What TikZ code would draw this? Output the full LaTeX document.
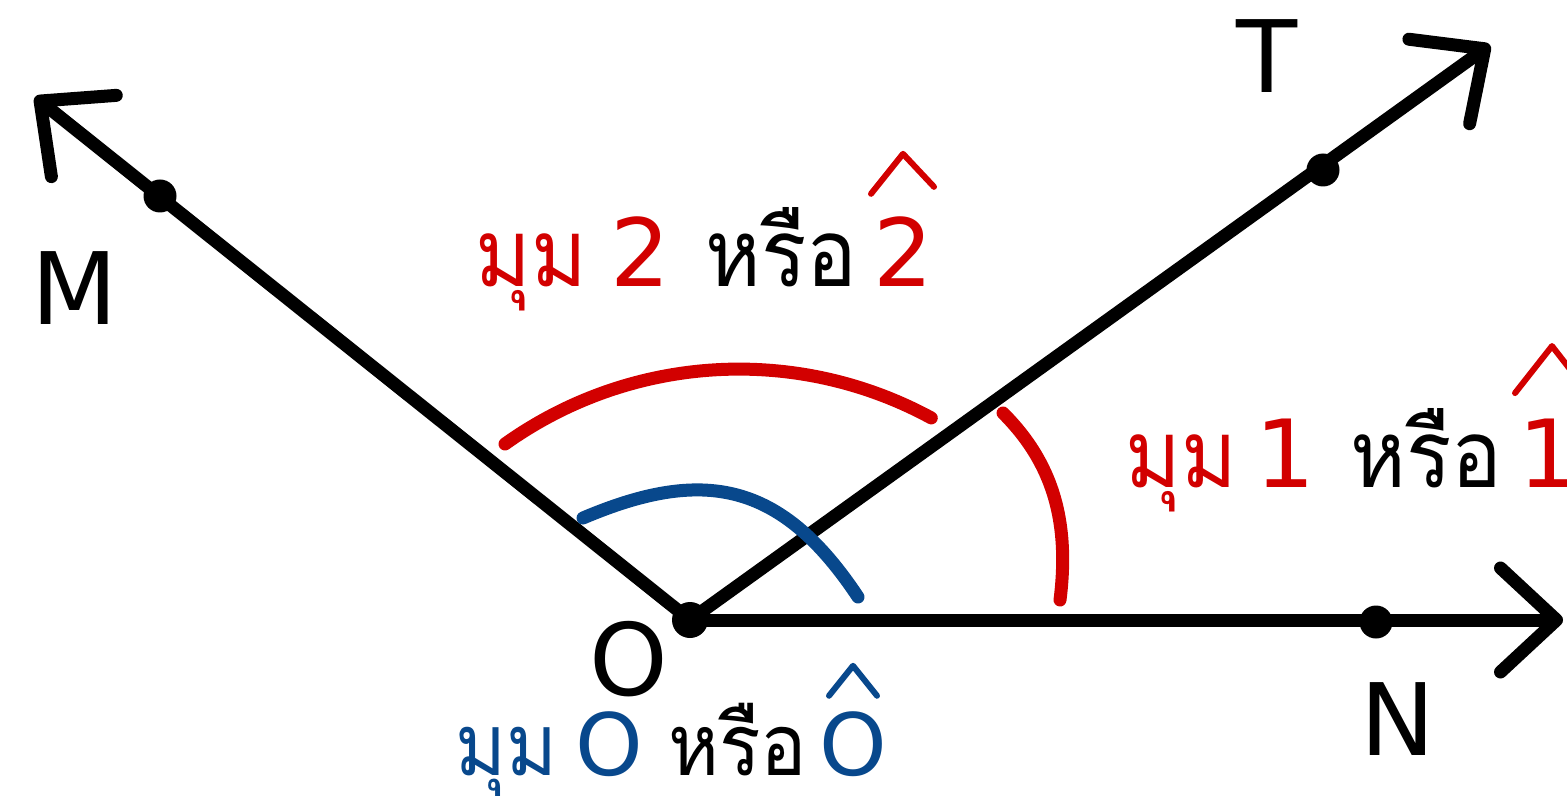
\documentclass[tikz,border=0pt]{standalone}
\usepackage{fontspec}
\setmainfont{DejaVu Sans}
\newfontfamily\thaifont[Script=Thai, FakeStretch=0.9]{Loma}
\usetikzlibrary{positioning, calc, arrows.meta}
\definecolor{angred}{RGB}{210,0,0}
\definecolor{angblue}{RGB}{8,72,140}

\begin{document}
\begin{tikzpicture}[x=0.5pt, y=-0.5pt, line cap=round, line join=round,
    ray/.style={line width=6.5pt, -{Straight Barb[length=28pt, width=52pt, round]}},
    pt/.style={circle, fill, inner sep=0pt, minimum size=16.5pt},
    arcline/.style={line width=6.5pt},
    hatline/.style={line width=3pt},
    letter/.style={inner sep=0pt, font=\fontsize{50}{60}\selectfont},
    word/.style={inner sep=0pt, anchor=base west, font=\thaifont\fontsize{47}{56}\selectfont},
    digit/.style={inner sep=0pt, anchor=base, font=\fontsize{47}{56}\selectfont}]

    \useasboundingbox (0,0) rectangle (1567,796);
    \clip (0,0) rectangle (1567,796);

    % --- Vertex and ray ends ---
    \node[pt, minimum size=18pt] (O) at (690,620) {};
    \coordinate (Mend) at (35,97);
    \coordinate (Tend) at (1490,45);
    \coordinate (Nend) at (1563,620);

    % --- The three rays ---
    \draw[ray] (O.center) -- (Mend);
    \draw[ray] (O.center) -- (Tend);
    \draw[ray] (O.center) -- (Nend);

    % --- Points on the rays ---
    \node[pt] (M) at (160,196) {};
    \node[pt] (T) at (1323,170) {};
    \node[pt] (N) at (1376,622) {};

    % --- Point names ---
    \node[letter] (Mlbl) at (75,288) {M};
    \node[letter] (Tlbl) at (1267,56) {T};
    \node[letter] (Nlbl) at (1398,719) {N};
    \node[letter] (Olbl) at (629,659) {O};

    % --- Angle arcs ---
    \draw[arcline, angred] (505,444) arc[start angle=-125.5, end angle=-61.5, radius=403];
    \draw[arcline, angblue] (583,518) .. controls (703,467) and (781,481) .. (858,597);
    \draw[arcline, angred] (1003,413) .. controls (1052,462) and (1070,520) .. (1060,600);

    % --- Angle 2 label ---
    \node[word, text=angred] (mum2) at (475,287) {มุม};
    \node[digit, text=angred] (num2) at (640,287) {2};
    \node[word] (rue2) at (705,287) {หรือ};
    \node[digit, text=angred] (hat2) at (903,287) {2};
    \draw[hatline, angred] ($(hat2.north)+(-32,-23)$) -- ++(32,-40) -- ++(31,33);

    % --- Angle 1 label ---
    \node[word, text=angred] (mum1) at (1125,487) {มุม};
    \node[digit, text=angred] (num1) at (1285,487) {1};
    \node[word] (rue1) at (1350,487) {หรือ};
    \node[digit, text=angred] (hat1) at (1548,487) {1};
    \draw[hatline, angred] ($(hat1.north)+(-33,-25)$) -- ++(37,-47) -- ++(35,45);

    % --- Angle O label ---
    \node[word, text=angblue, font=\thaifont\fontsize{43}{52}\selectfont] (mumO) at (455,775) {มุม};
    \node[digit, text=angblue, font=\fontsize{43}{52}\selectfont] (numO) at (609,775) {O};
    \node[word, font=\thaifont\fontsize{43}{52}\selectfont] (rueO) at (668,775) {หรือ};
    \node[digit, text=angblue, font=\fontsize{43}{52}\selectfont] (hatO) at (853,775) {O};
    \draw[hatline, angblue] ($(hatO.north)+(-24,-15)$) -- ++(24,-30) -- ++(24,30);

\end{tikzpicture}
\end{document}
